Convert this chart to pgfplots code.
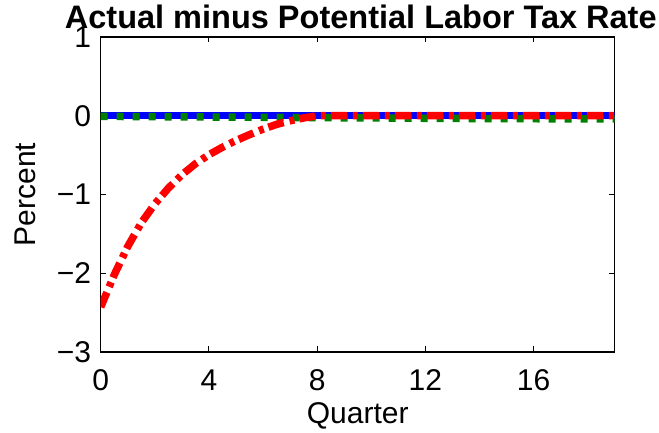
\documentclass[border=0pt]{standalone}
\usepackage{fontspec}
\setmainfont{Liberation Sans}
\usepackage{pgfplots}
\pgfplotsset{compat=1.18}

\definecolor{mlblue}{RGB}{0,0,255}
\definecolor{mlgreen}{RGB}{0,128,0}
\definecolor{mlred}{RGB}{255,0,0}

\newcommand{\chartfont}{\fontsize{30}{36}\selectfont}

\begin{document}
\begin{tikzpicture}
  \begin{axis}[
    name=ax,
    scale only axis,
    width=514pt, height=315pt,
    xmin=0, xmax=19, ymin=-3, ymax=1,
    xtick={0,4,8,12,16},
    ytick={-3,-2,-1,0,1},
    yticklabels={−3,−2,−1,0,1},
    tick align=inside,
    major tick length=5.5pt,
    tick style={black, line width=1pt},
    axis line style={black, line width=1.3pt},
    ticklabel style={font=\chartfont},
    /pgf/number format/assume math mode=true,
    x tick label style={anchor=base, inner sep=0pt, yshift=-38.7pt},
    y tick label style={anchor=east, inner sep=0pt, xshift=-9.5pt},
    xlabel={Quarter},
    ylabel={Percent},
    label style={font=\chartfont, inner sep=0pt},
    x label style={at={(axis description cs:0.5,-0.2263)}, anchor=base},
    y label style={at={(axis description cs:-0.1259,0.5)}, anchor=base},
    title={Actual minus Potential Labor Tax Rate},
    every axis title shift=0pt,
    title style={at={(axis description cs:0.506,1.0276)}, anchor=base,
                 inner sep=0pt, font=\bfseries\fontsize{32.5}{36}\selectfont},
  ]
    % potential / actual baseline
    \addplot[mlblue, line width=7.5pt] coordinates {
      (0,0) (19,0)
    };
    \addplot[mlgreen, line width=7.5pt, dash pattern=on 7pt off 9pt] coordinates {
      (0,-0.008) (1,-0.010) (2,-0.012) (3,-0.014) (4,-0.016) (5,-0.018)
      (6,-0.020) (7,-0.022) (8,-0.024) (9,-0.026) (10,-0.028) (11,-0.030)
      (12,-0.032) (13,-0.034) (14,-0.036) (15,-0.037) (16,-0.038)
      (17,-0.039) (18,-0.040) (19,-0.040)
    };
    \addplot[mlred, line width=7.5pt, dash pattern=on 16pt off 6pt on 5pt off 5pt] coordinates {
      (0,-2.43) (0.5,-2.02) (1,-1.66) (1.5,-1.36) (2,-1.12) (2.5,-0.92)
      (3,-0.75) (3.5,-0.61) (4,-0.495) (4.5,-0.40) (5,-0.315) (5.5,-0.24)
      (6,-0.17) (6.5,-0.11) (7,-0.065) (7.5,-0.028) (8,0) (9,0) (10,0)
      (11,0) (12,0) (13,0) (14,0) (15,0) (16,0) (17,0) (18,0) (19,0)
    };
  \end{axis}
  \path ([shift={(-100.7pt,-80.3pt)}]ax.south west)
        rectangle ([shift={(44.3pt,37pt)}]ax.north east);
\end{tikzpicture}
\end{document}
